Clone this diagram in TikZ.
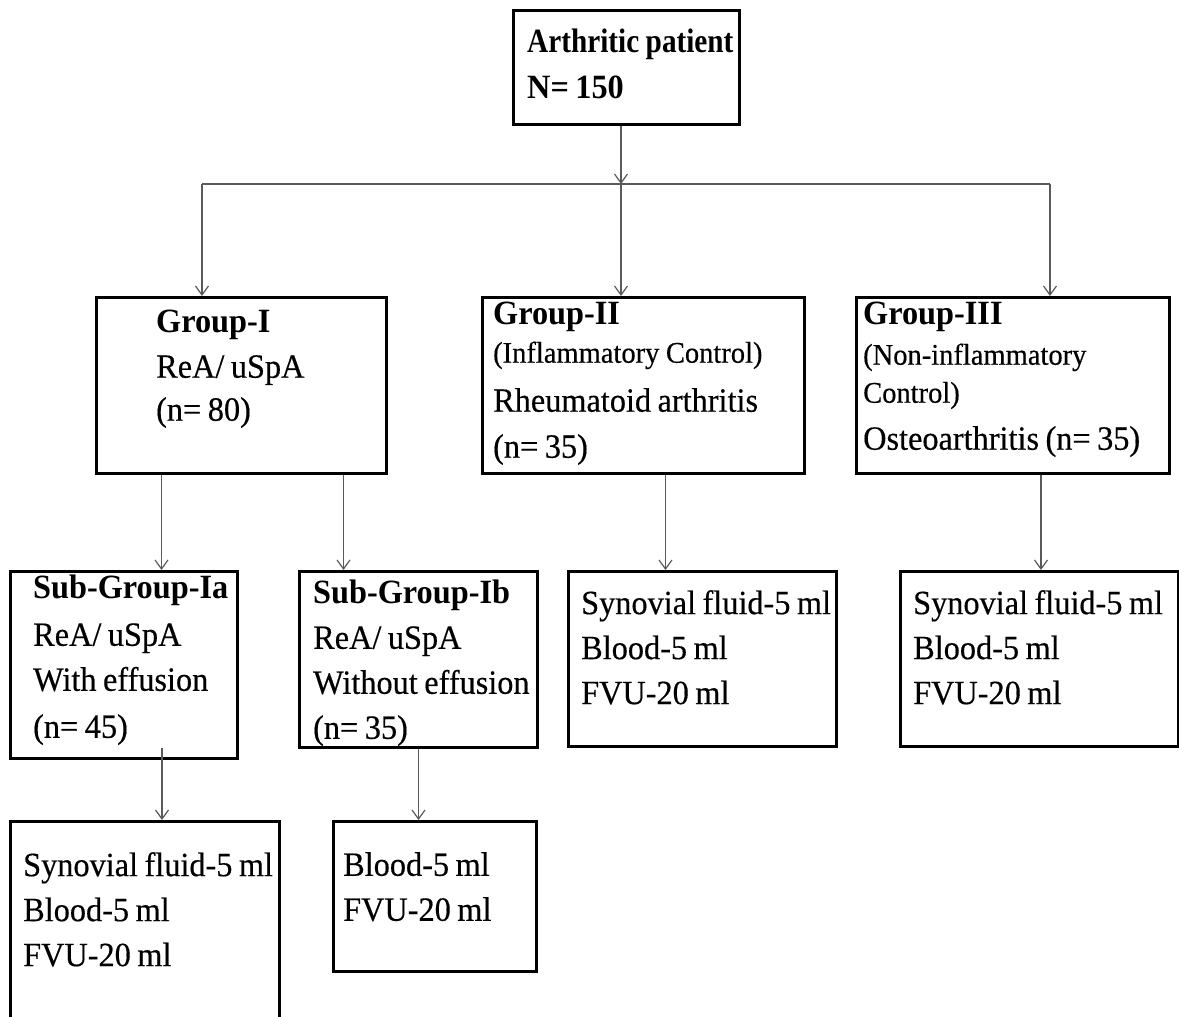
\documentclass[tikz,border=0pt]{standalone}
\usepackage{fontspec}
\setmainfont{Liberation Serif}[FakeStretch=0.95,UprightFeatures={FakeBold=0.4}]
\newfontfamily\headfont{Liberation Serif}[FakeStretch=0.86]
\usetikzlibrary{arrows.meta,positioning}
\definecolor{linkgray}{HTML}{5A5A5A}
\newcommand{\bigtxt}{\fontsize{34}{45}\selectfont}
\newcommand{\smalltxt}{\fontsize{30}{45}\selectfont}

\begin{document}
\begin{tikzpicture}[
  x=1pt,y=-1pt,
  box/.style={draw,line width=3pt,anchor=north west,inner sep=0pt},
  txt/.style={inner sep=0pt,align=left,text width=330pt,font=\bigtxt,
    execute at begin node={\spaceskip=6.5pt\relax}},
  arr/.style={-{Straight Barb[length=9pt,width=13pt]},draw=linkgray,line width=1.2pt},
  link/.style={draw=linkgray,line width=1.2pt}
]
\useasboundingbox (0,0) rectangle (1179,1017);
% boxes
\node[box,minimum width=226pt,minimum height=114pt] (top) at (512,9) {};
\node[box,minimum width=290pt,minimum height=176pt] (g1) at (95,296) {};
\node[box,minimum width=322pt,minimum height=176pt] (g2) at (481,296) {};
\node[box,minimum width=313pt,minimum height=176pt] (g3) at (855,296) {};
\node[box,minimum width=227pt,minimum height=187pt] (s1a) at (9,570) {};
\node[box,minimum width=238pt,minimum height=176pt] (s1b) at (298,570) {};
\node[box,minimum width=268pt,minimum height=175pt] (s2) at (567,570) {};
\node[box,minimum width=278pt,minimum height=175pt] (s3) at (899,570) {};
\node[box,minimum width=269pt,minimum height=240pt] (b1a) at (9,820) {};
\node[box,minimum width=203pt,minimum height=150pt] (b1b) at (332,820) {};
% texts
\node[txt,below right=20pt and 15pt of top.north west] (toptxt)
  {{\headfont\bfseries Arthritic patient}\\[1pt] \textbf{N= 150}};
\node[txt,below right=14pt and 61pt of g1.north west] (g1txt)
  {\textbf{Group-I}\\ ReA/ uSpA\\[-2pt] (n= 80)};
\node[txt,below right=6pt and 12pt of g2.north west] (g2txt)
  {\textbf{Group-II}\\[-7pt] {\smalltxt (Inflammatory Control)}\\[4pt] Rheumatoid arthritis\\[1pt] (n= 35)};
\node[txt,below right=6pt and 8pt of g3.north west] (g3txt)
  {\textbf{Group-III}\\[-5pt] {\smalltxt (Non-inflammatory}\\[-7pt] {\smalltxt Control)}\\[2pt] Osteoarthritis (n= 35)};
\node[txt,below right=5pt and 24pt of s1a.north west] (s1atxt)
  {\textbf{Sub-Group-Ia}\\[2pt] ReA/ uSpA\\ With effusion\\[2pt] (n= 45)};
\node[txt,below right=10pt and 15pt of s1b.north west] (s1btxt)
  {\textbf{Sub-Group-Ib}\\ ReA/ uSpA\\ Without effusion\\ (n= 35)};
\node[txt,below right=20pt and 14pt of s2.north west] (s2txt)
  {Synovial fluid-5 ml\\ Blood-5 ml\\ FVU-20 ml};
\node[txt,below right=20pt and 14pt of s3.north west] (s3txt)
  {Synovial fluid-5 ml\\ Blood-5 ml\\ FVU-20 ml};
\node[txt,below right=32pt and 14pt of b1a.north west] (b1atxt)
  {Synovial fluid-5 ml\\ Blood-5 ml\\ FVU-20 ml};
\node[txt,below right=32pt and 11pt of b1b.north west] (b1btxt)
  {Blood-5 ml\\ FVU-20 ml};
% connectors
\coordinate (hub) at (621,184);
\coordinate (j1) at (202,184);
\coordinate (j3) at (1050,184);
\draw[arr] (top.south -| hub) -- (hub);
\draw[link] (j1) -- (j3);
\draw[arr] (j1) -- (j1 |- g1.north);
\draw[arr] (hub) -- (hub |- g2.north);
\draw[arr] (j3) -- (j3 |- g3.north);
\draw[arr] ([xshift=-80pt]g1.south) -- ([xshift=-80pt]g1.south |- s1a.north);
\draw[arr] ([xshift=102pt]g1.south) -- ([xshift=102pt]g1.south |- s1b.north);
\draw[arr] ([xshift=22pt]g2.south) -- ([xshift=22pt]g2.south |- s2.north);
\draw[arr] ([xshift=28pt]g3.south) -- ([xshift=28pt]g3.south |- s3.north);
\draw[arr] ([xshift=38pt,yshift=12pt]s1a.south) -- ([xshift=38pt]s1a.south |- b1a.north);
\draw[arr] (s1b.south) -- (s1b.south |- b1b.north);
\end{tikzpicture}
\end{document}
